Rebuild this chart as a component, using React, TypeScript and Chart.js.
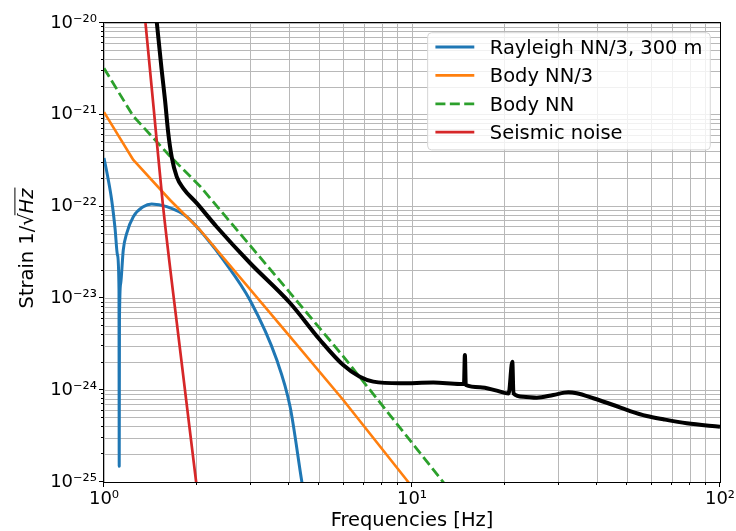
import { useEffect, useRef } from 'react';
import { Chart, registerables } from 'chart.js';

Chart.register(...registerables);

const FONT = '"DejaVu Sans", "Liberation Sans", sans-serif';

// Rayleigh NN/3, 300 m
const rayleighFreq = [1.0, 1.03, 1.059, 1.086, 1.106, 1.1186, 1.1205, 1.1225, 1.133, 1.155, 1.185, 1.245, 1.341, 1.428, 1.598, 1.856, 2.153, 2.44, 2.98, 3.64, 4.02, 4.39, 4.45];
const rayleighStrain = [3.38e-22, 2.05e-22, 1.18e-22, 5.79e-23, 2.97e-23, 1.24e-23, 1.48e-25, 5.8e-24, 1.46e-23, 3.37e-23, 5.12e-23, 7.76e-23, 9.98e-23, 1.07e-22, 9.98e-23, 7.76e-23, 4.52e-23, 2.63e-23, 9.55e-24, 2.13e-24, 6.61e-25, 1.0e-25, 7.6e-26];

// Body NN/3
const bodyThirdFreq = [1.0, 1.245, 1.638, 2.05, 4.018, 5.98, 9.61, 10.3];
const bodyThirdStrain = [1.07e-21, 3.22e-22, 1.18e-22, 5.56e-23, 3.83e-24, 7.82e-25, 1.05e-25, 7.8e-26];

// Body NN
const bodyFreq = [1.0, 1.245, 1.638, 2.05, 4.018, 5.98, 9.61, 13.0];
const bodyStrain = [3.21e-21, 9.66e-22, 3.54e-22, 1.67e-22, 1.15e-23, 2.34e-24, 3.16e-25, 8.8e-26];

// Seismic noise
const seismicFreq = [1.361, 1.45, 1.55, 1.75, 2.0];
const seismicStrain = [1.07e-20, 1.17e-21, 1.12e-22, 3.55e-24, 8.9e-26];

// Total (black)
const totalFreq = [1.47, 1.539, 1.578, 1.617, 1.658, 1.722, 1.809, 2.0, 2.321, 2.979, 4.018, 5.03, 5.98, 6.77, 7.49, 9.15, 11.73, 14.29, 14.75, 14.85, 14.95, 16.63, 18.84, 20.6, 21.17, 21.35, 22.98, 25.41, 28.76, 32.18, 34.25, 38.78, 45.04, 51.04, 57.8, 65.46, 77.98, 100];
const totalStrain = [1.39e-20, 3.08e-21, 1.45e-21, 6.28e-22, 3.5e-22, 2.12e-22, 1.58e-22, 1.09e-22, 6.04e-23, 2.43e-23, 8.91e-24, 3.52e-24, 1.88e-24, 1.4e-24, 1.24e-24, 1.19e-24, 1.21e-24, 1.17e-24, 1.17e-24, 2.42e-24, 1.14e-24, 1.08e-24, 9.89e-25, 9.2e-25, 2.04e-24, 9.25e-25, 8.49e-25, 8.28e-25, 8.87e-25, 9.48e-25, 9.25e-25, 8.17e-25, 6.9e-25, 5.93e-25, 5.24e-25, 4.82e-25, 4.36e-25, 4.0e-25];

const xDecades = [0, 1, 2];
const yDecades = [-25, -24, -23, -22, -21, -20];
const xTitle = 'Frequencies [Hz]';
const yTitleParts = ['Strain 1/', '√', 'Hz'];

const BLUE = '#1f77b4';
const ORANGE = '#ff7f0e';
const GREEN = '#2ca02c';
const RED = '#d62728';

const legendItems = [
  { label: 'Rayleigh NN/3, 300 m', color: BLUE, dash: [] as number[] },
  { label: 'Body NN/3', color: ORANGE, dash: [] as number[] },
  { label: 'Body NN', color: GREEN, dash: [10, 4.4] },
  { label: 'Seismic noise', color: RED, dash: [] as number[] },
];

const SUP: Record<string, string> = { '0': '⁰', '1': '¹', '2': '²', '3': '³', '4': '⁴', '5': '⁵', '6': '⁶', '7': '⁷', '8': '⁸', '9': '⁹', '-': '⁻' };
const sup = (n: number) => String(n).split('').map((c) => SUP[c] || c).join('');

const pts = (xs: number[], ys: number[]) => xs.map((x, i) => ({ x, y: ys[i] }));

const logTicks = (decades: number[]) => {
  const t: { value: number }[] = [];
  for (let i = 0; i < decades.length; i++) {
    const base = Math.pow(10, decades[i]);
    t.push({ value: base });
    if (i < decades.length - 1) for (let k = 2; k <= 9; k++) t.push({ value: k * base });
  }
  return t;
};

const isMajor = (v: number) => {
  const l = Math.log10(v);
  return Math.abs(l - Math.round(l)) < 1e-6;
};

const tickLabel = (v: any) => (isMajor(Number(v)) ? '10' + sup(Math.round(Math.log10(Number(v)))) : '');

const TICK_FS = 18;
const FS = 19.44;
const GRID = '#b8b8b8';

const framePlugin = {
  id: 'frame',
  afterDatasetsDraw(chart: any) {
    const { ctx, chartArea: a, scales } = chart;
    ctx.save();
    ctx.strokeStyle = '#000';
    ctx.lineWidth = 1;
    ctx.strokeRect(Math.round(a.left) - 0.5, Math.round(a.top) - 0.5, Math.round(a.right - a.left) + 1, Math.round(a.bottom - a.top) + 1);
    ctx.beginPath();
    for (const t of scales.x.ticks) {
      const px = Math.round(scales.x.getPixelForValue(t.value)) - 0.5;
      const len = isMajor(t.value) ? 5 : 3;
      ctx.moveTo(px, a.bottom);
      ctx.lineTo(px, a.bottom + len);
    }
    for (const t of scales.y.ticks) {
      const py = Math.round(scales.y.getPixelForValue(t.value)) - 0.5;
      const len = isMajor(t.value) ? 5 : 3;
      ctx.moveTo(a.left, py);
      ctx.lineTo(a.left - len, py);
    }
    ctx.stroke();

    // y axis title
    const cy = (a.top + a.bottom) / 2 - 4;
    ctx.translate(33, cy);
    ctx.rotate(-Math.PI / 2);
    const normal = `${FS}px ${FONT}`;
    const italic = `italic ${FS}px ${FONT}`;
    ctx.font = normal;
    const w1 = ctx.measureText(yTitleParts[0]).width;
    const w2 = ctx.measureText(yTitleParts[1]).width;
    ctx.font = italic;
    const w3 = ctx.measureText(yTitleParts[2]).width;
    let x = -(w1 + w2 + w3) / 2;
    ctx.fillStyle = '#000';
    ctx.textBaseline = 'alphabetic';
    ctx.font = normal;
    ctx.fillText(yTitleParts[0], x, 0);
    x += w1;
    ctx.fillText(yTitleParts[1], x, 0);
    ctx.beginPath();
    ctx.lineWidth = 1;
    ctx.moveTo(x + w2 * 0.85, -FS * 0.93);
    ctx.lineTo(x + w2 + w3 + 1, -FS * 0.93);
    ctx.stroke();
    x += w2;
    ctx.font = italic;
    ctx.fillText(yTitleParts[2], x, 0);
    ctx.restore();
  },
};

const legendPlugin = {
  id: 'boxLegend',
  afterDraw(chart: any) {
    const { ctx, chartArea: a } = chart;
    ctx.save();
    ctx.font = `${FS}px ${FONT}`;
    const maxW = Math.max(...legendItems.map((l) => ctx.measureText(l.label).width));
    const pad = 0.4 * FS;
    const handle = 2 * FS;
    const gap = 0.8 * FS;
    const rowH = 1.46 * FS;
    const w = pad * 2 + handle + gap + maxW;
    const h = rowH * (legendItems.length - 1) + 32;
    const right = a.right - 0.5 * FS;
    const top = a.top + 0.5 * FS;
    const left = right - w;
    ctx.beginPath();
    (ctx as any).roundRect(left, top, w, h, 4);
    ctx.fillStyle = 'rgba(255,255,255,0.8)';
    ctx.fill();
    ctx.strokeStyle = '#d6d6d6';
    ctx.lineWidth = 1;
    ctx.stroke();
    legendItems.forEach((it, i) => {
      const cy = top + 14.3 + i * rowH;
      ctx.beginPath();
      ctx.setLineDash(it.dash);
      ctx.strokeStyle = it.color;
      ctx.lineWidth = 2.8;
      ctx.moveTo(left + pad, cy);
      ctx.lineTo(left + pad + handle, cy);
      ctx.stroke();
      ctx.setLineDash([]);
      ctx.fillStyle = '#000';
      ctx.textBaseline = 'alphabetic';
      ctx.fillText(it.label, left + pad + handle + gap, cy + 7);
    });
    ctx.restore();
  },
};

export default function App() {
  const ref = useRef<HTMLCanvasElement>(null);
  useEffect(() => {
    document.body.style.margin = '0';
    const canvas = ref.current!;
    const common = { pointRadius: 0, borderJoinStyle: 'round' as const, fill: false, clip: 0 };
    const chart = new Chart(canvas, {
      type: 'line',
      data: {
        datasets: [
          { ...common, label: 'Total', data: pts(totalFreq, totalStrain), borderColor: '#000', borderWidth: 4, cubicInterpolationMode: 'monotone' },
          { ...common, label: 'Seismic noise', data: pts(seismicFreq, seismicStrain), borderColor: RED, borderWidth: 2.7, cubicInterpolationMode: 'monotone' },
          { ...common, label: 'Body NN', data: pts(bodyFreq, bodyStrain), borderColor: GREEN, borderWidth: 2.8, borderDash: [10, 4.4], tension: 0 },
          { ...common, label: 'Body NN/3', data: pts(bodyThirdFreq, bodyThirdStrain), borderColor: ORANGE, borderWidth: 2.6, tension: 0 },
          { ...common, label: 'Rayleigh NN/3, 300 m', data: pts(rayleighFreq, rayleighStrain), borderColor: BLUE, borderWidth: 3, cubicInterpolationMode: 'monotone' },
        ] as any,
      },
      options: {
        animation: false,
        responsive: false,
        devicePixelRatio: 1,
        layout: { padding: { top: 23, right: 16, left: 0, bottom: 0 } },
        plugins: { legend: { display: false }, tooltip: { enabled: false } },
        scales: {
          x: {
            type: 'logarithmic',
            position: 'bottom',
            min: 1,
            max: 100,
            afterBuildTicks: (s: any) => { s.ticks = logTicks(xDecades); },
            afterFit: (s: any) => { s.height = 49; s.paddingLeft = 0; s.paddingRight = 0; s.paddingTop = 0; s.paddingBottom = 0; },
            grid: { color: GRID, lineWidth: 1, drawTicks: false },
            border: { display: false },
            ticks: {
              autoSkip: false, maxRotation: 0, minRotation: 0, padding: 7, color: '#000',
              font: { family: FONT, size: TICK_FS },
              callback: tickLabel,
            },
            title: { display: true, text: xTitle, color: '#000', font: { family: FONT, size: FS, lineHeight: 1 }, padding: { top: 0, bottom: 0.5 } },
          },
          y: {
            type: 'logarithmic',
            position: 'left',
            min: 1e-25,
            max: 1e-20,
            afterBuildTicks: (s: any) => { s.ticks = logTicks(yDecades); },
            afterFit: (s: any) => { s.width = 104; s.paddingLeft = 0; s.paddingRight = 0; s.paddingTop = 0; s.paddingBottom = 0; },
            grid: { color: GRID, lineWidth: 1, drawTicks: false },
            border: { display: false },
            ticks: {
              autoSkip: false, padding: 7, color: '#000',
              font: { family: FONT, size: TICK_FS },
              callback: tickLabel,
            },
            title: { display: false },
          },
        },
      } as any,
      plugins: [framePlugin, legendPlugin],
    });
    return () => chart.destroy();
  }, []);
  return (
    <div style={{ width: 736, height: 531 }}>
      <canvas ref={ref} width={736} height={531} style={{ display: 'block' }} />
    </div>
  );
}
